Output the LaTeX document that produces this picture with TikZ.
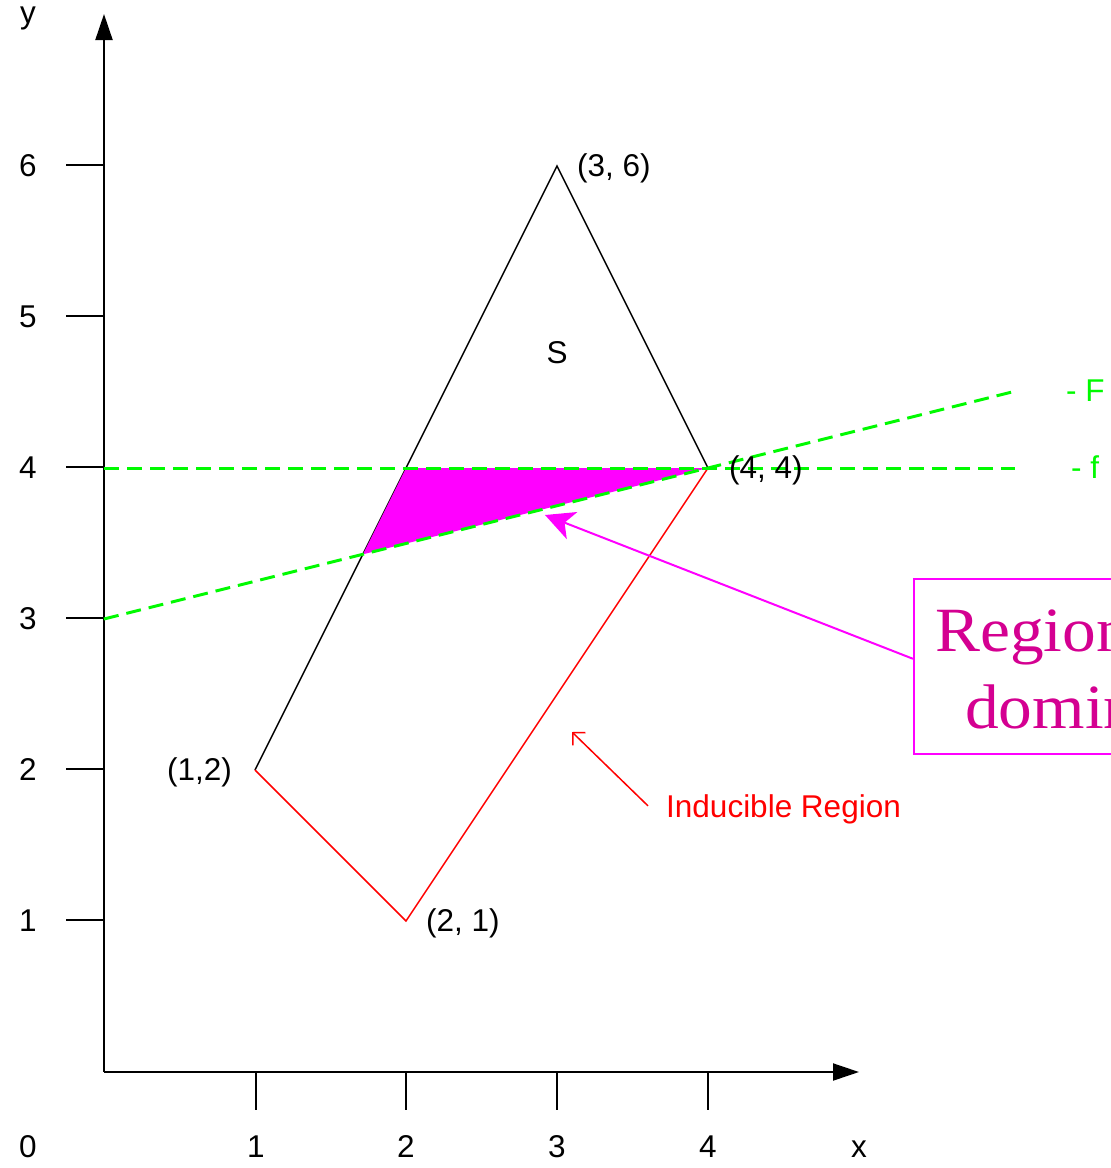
\documentclass[tikz,border=0pt]{standalone}
\usepackage{fontspec}
\usepackage{graphicx}
\setmainfont{Liberation Sans}
\newfontfamily\timesf{Liberation Serif}
\usetikzlibrary{arrows.meta,calc}
\definecolor{grn}{RGB}{0,250,0}
\definecolor{mag}{RGB}{255,0,255}
\definecolor{regcol}{RGB}{212,0,145}
\definecolor{redline}{RGB}{255,0,0}
\begin{document}
\begin{tikzpicture}[x=1pt,y=-1pt,
  lbl/.style={font=\fontsize{31.5pt}{38pt}\selectfont, inner sep=0pt, anchor=base},
  axisline/.style={line width=2pt},
  tickline/.style={line width=1.6pt},
  dashgreen/.style={draw=grn, line width=3pt, dash pattern=on 15pt off 8pt},
  bigtxt/.style={font=\timesf\fontsize{63pt}{76pt}\selectfont, text=regcol, inner sep=0pt, anchor=base west},
]
\useasboundingbox (0,0) rectangle (1111,1168);
\clip (0,0) rectangle (1111,1168);

% axes
\coordinate (O) at (104,1072);
\coordinate (ytip) at (104,14);
\coordinate (xtip) at (859,1072);
\draw[axisline,-{Triangle[length=26pt,width=17pt]}] (O) -- (ytip);
\draw[axisline,-{Triangle[length=26pt,width=17pt]}] (O) -- (xtip);

% ticks
\foreach \yy in {920,769,618,467,316,165} \draw[tickline] (66,\yy) -- (104,\yy);
\foreach \xx in {256,406,557,708} \draw[tickline] (\xx,1072) -- (\xx,1110);

% tick labels
\node[lbl] (ly) at (28,23) {y};
\node[lbl] (l6) at (28,176) {6};
\node[lbl] (l5) at (28,327) {5};
\node[lbl] (l4) at (28,478) {4};
\node[lbl] (l3) at (28,629) {3};
\node[lbl] (l2) at (28,780) {2};
\node[lbl] (l1) at (28,931) {1};
\node[lbl] (l0) at (28,1157) {0};
\node[lbl] (lx1) at (256,1157) {1};
\node[lbl] (lx2) at (406,1157) {2};
\node[lbl] (lx3) at (557,1157) {3};
\node[lbl] (lx4) at (708,1157) {4};
\node[lbl] (lx) at (859,1157) {x};

% math coordinates
\begin{scope}[shift={(104,1072)},x=151pt,y=151pt]
  \coordinate (P12) at (1,2);
  \coordinate (P21) at (2,1);
  \coordinate (P36) at (3,6);
  \coordinate (P44) at (4,4);
  \coordinate (A) at (2,4);
  \coordinate (B) at (12/7,24/7);
  \coordinate (F0) at (0,3);
  \coordinate (F6) at (6.03,4.5075);
  \coordinate (f0) at (0,4);
  \coordinate (f6) at (6.03,4);
\end{scope}

% polygons
\draw[line width=1.5pt, black] (P12) -- (P36) -- (P44);
\draw[line width=1.5pt, redline] (P12) -- (P21) -- (P44);
\fill[mag] (A) -- (P44) -- (B) -- cycle;

% green dashed lines
\draw[dashgreen] (f0) -- (f6);
\draw[dashgreen] (F0) -- (F6);

% point labels
\node[lbl] (S) at (557,363) {S};
\node[lbl, anchor=base west] (t36) at (577,176) {(3, 6)};
\node[lbl, anchor=base west] (t44) at (729,478) {(4, 4)};
\node[lbl, anchor=base east] (t12) at (232,780) {(1,2)};
\node[lbl, anchor=base west] (t21) at (426,931) {(2, 1)};
\node[lbl, anchor=base west, text=grn] (tF) at (1066,401) {- F};
\node[lbl, anchor=base west, text=grn] (tf) at (1071,478) {- f};

% inducible region label and arrow
\node[lbl, anchor=base west, text=redline] (ind) at (666,817) {Inducible Region};
\coordinate (indtip) at (572,732);
\draw[redline, line width=1.5pt, -{Straight Barb[length=9pt,width=18pt]}] ([xshift=-18pt,yshift=3pt]ind.west) -- (indtip);

% region box
\node[draw=mag, line width=1.6pt, minimum width=240pt, minimum height=175pt, anchor=north west, inner sep=0pt] (box) at (913,578) {};
\node[bigtxt] (reg1) at (935,651) {\scalebox{1.07}[1]{Region}};
\node[bigtxt] (reg2) at (965,728) {\scalebox{1.07}[1]{domin}};
\coordinate (magtip) at (545,515);
\draw[mag, line width=2pt, -{Stealth[length=29pt,width=29pt,inset=8pt]}] ([yshift=7.5pt]box.west) -- (magtip);
\end{tikzpicture}
\end{document}
